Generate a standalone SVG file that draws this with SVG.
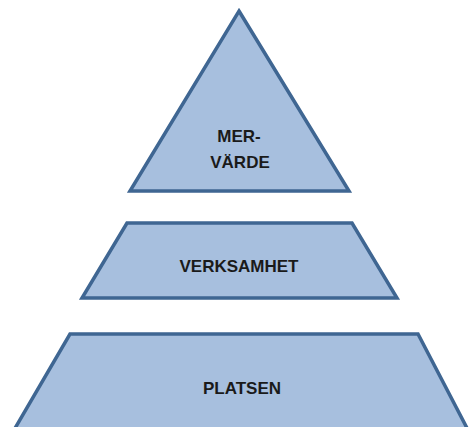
<svg xmlns="http://www.w3.org/2000/svg" width="470" height="427" viewBox="0 0 470 427">
<style>
.shape{fill:#A7BFDE;stroke:#3F6692;stroke-width:3.5;stroke-linejoin:miter}
.lbl{font-family:"Liberation Sans",Arial,sans-serif;font-weight:bold;font-size:17px;fill:#1a1a1a;text-anchor:middle}
</style>
<rect width="470" height="427" fill="#ffffff"/>
<g id="mervarde">
<polygon class="shape" points="239,11 349,191 130,191"/>
<text class="lbl" x="239" y="142">MER-</text>
<text class="lbl" x="240" y="168">VÄRDE</text>
</g>
<g id="verksamhet">
<polygon class="shape" points="127,223 352,223 397,298 82,298"/>
<text class="lbl" x="239" y="272">VERKSAMHET</text>
</g>
<g id="platsen">
<polygon class="shape" points="70,334 418,334 468,430 14,430"/>
<text class="lbl" x="242" y="394">PLATSEN</text>
</g>
<g id="connectors"></g>
</svg>
